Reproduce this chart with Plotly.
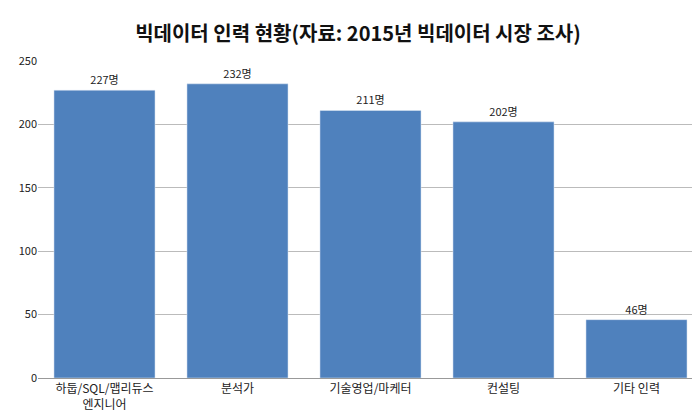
import plotly.graph_objects as go

categories = ["하둡/SQL/맵리듀스<br>엔지니어", "분석가", "기술영업/마케터", "컨설팅", "기타 인력"]
values = [227, 232, 211, 202, 46]
labels = [f"{v}명" for v in values]

fig = go.Figure(go.Bar(x=categories, y=values, text=labels, textposition="outside",
                       marker_color="#4F81BD", cliponaxis=False,
                       textfont=dict(size=11, color="#222")))
fig.update_layout(
    width=700, height=417, margin=dict(l=30, r=5, t=53, b=47),
    paper_bgcolor="white", plot_bgcolor="white", bargap=0.24,
    font=dict(family="Noto Sans CJK KR", size=11, color="#222"),
    title=dict(text="<b>빅데이터 인력 현황(자료: 2015년 빅데이터 시장 조사)</b>", x=0.5, y=0.955,
               xanchor="center", font=dict(size=20, color="#111")),
    showlegend=False,
)
fig.update_yaxes(range=[0, 250], dtick=50, showgrid=True, gridcolor="#BBBBBB", zeroline=False,
                 showline=False, tickfont=dict(size=11), automargin=False)
fig.update_xaxes(showline=True, linecolor="#999", tickfont=dict(size=12), automargin=False)
fig.write_html("out.html")
